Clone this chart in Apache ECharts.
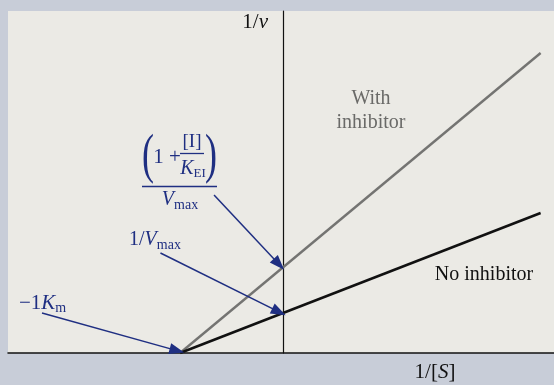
<!DOCTYPE html>
<html>
<head>
<meta charset="utf-8">
<title>Lineweaver–Burk plot with inhibitor</title>
<script src="https://cdn.jsdelivr.net/npm/echarts@6/dist/echarts.min.js"></script>
<style>
  html, body { margin: 0; padding: 0; background: #c8cdd8; }
  #chart { width: 554px; height: 385px; }
</style>
</head>
<body>
<div id="chart"></div>
<script>
// 1/[S] values at the two ends of each line (x-intercept at −1/Km)
const invS = [-1, 2.5];
// 1/v for the uninhibited enzyme
const noInhibitor = [0, 3.5];
// 1/v with inhibitor present (steeper slope, same x-intercept)
const withInhibitor = [0, 7.5];

const navy = '#1f2f82';
const serif = '"Liberation Serif", "DejaVu Serif", serif';

const chart = echarts.init(document.getElementById('chart'), null, { renderer: 'canvas' });

function pairs(ys) { return invS.map((x, i) => [x, ys[i]]); }

const arrowStyle = { color: navy, width: 1.5, type: 'solid' };

const option = {
  animation: false,
  backgroundColor: '#c8cdd8',
  grid: {
    left: 8, right: 0, top: 11, bottom: 32,
    show: true, backgroundColor: '#ebeae5', borderWidth: 0
  },
  xAxis: {
    type: 'value', min: -2.67, max: 2.63,
    axisLine: { show: true, onZero: true, lineStyle: { color: '#111', width: 1.5 } },
    axisTick: { show: false }, axisLabel: { show: false }, splitLine: { show: false }
  },
  yAxis: {
    type: 'value', min: 0, max: 8.55,
    axisLine: { show: true, onZero: true, lineStyle: { color: '#111', width: 1.2 } },
    axisTick: { show: false }, axisLabel: { show: false }, splitLine: { show: false }
  },
  series: [
    {
      name: 'With inhibitor', type: 'line', data: pairs(withInhibitor),
      symbol: 'none', lineStyle: { color: '#747472', width: 2.4 }, z: 3
    },
    {
      name: 'No inhibitor', type: 'line', data: pairs(noInhibitor),
      symbol: 'none', lineStyle: { color: '#111', width: 2.5 }, z: 4,
      markLine: {
        silent: true, animation: false,
        symbol: ['none', 'triangle'], symbolSize: [11, 15],
        label: { show: false },
        lineStyle: arrowStyle,
        data: [
          [{ coord: [-2.34, 1.0] }, { coord: [-1.03, 0.06] }],
          [{ coord: [-1.19, 2.5] }, { coord: [-0.04, 1.03] }],
          [{ coord: [-0.67, 3.95] }, { coord: [-0.04, 2.22] }]
        ]
      }
    }
  ],
  graphic: [
    // axis titles
    { type: 'text', x: 268, y: 22, style: {
        text: '{n|1/}{i|v}', align: 'right', verticalAlign: 'middle',
        rich: { n: { font: '21px ' + serif, fill: '#111' }, i: { font: 'italic 21px ' + serif, fill: '#111' } }
    } },
    { type: 'text', x: 435, y: 372, style: {
        text: '{n|1/[}{i|S}{n|]}', align: 'center', verticalAlign: 'middle',
        rich: { n: { font: '21px ' + serif, fill: '#111' }, i: { font: 'italic 21px ' + serif, fill: '#111' } }
    } },
    // line labels
    { type: 'text', x: 371, y: 99, style: {
        text: 'With', align: 'center', verticalAlign: 'middle', font: '20px ' + serif, fill: '#6a6a68'
    } },
    { type: 'text', x: 371, y: 123, style: {
        text: 'inhibitor', align: 'center', verticalAlign: 'middle', font: '20px ' + serif, fill: '#6a6a68'
    } },
    { type: 'text', x: 484, y: 275, style: {
        text: 'No inhibitor', align: 'center', verticalAlign: 'middle', font: '20px ' + serif, fill: '#111'
    } },
    // −1/Km
    { type: 'text', x: 19, y: 303, style: {
        text: '{n|−1}{i|K}{s|m}', align: 'left', verticalAlign: 'middle',
        rich: {
          n: { font: '21px ' + serif, fill: navy },
          i: { font: 'italic 21px ' + serif, fill: navy },
          s: { font: '14px ' + serif, fill: navy, padding: [10, 0, 0, 0] }
        }
    } },
    // 1/Vmax
    { type: 'text', x: 129, y: 240, style: {
        text: '{n|1/}{i|V}{s|max}', align: 'left', verticalAlign: 'middle',
        rich: {
          n: { font: '20px ' + serif, fill: navy },
          i: { font: 'italic 20px ' + serif, fill: navy },
          s: { font: '14px ' + serif, fill: navy, padding: [10, 0, 0, 0] }
        }
    } },
    // (1 + [I]/K_EI) / Vmax
    { type: 'text', x: 148, y: 157, scaleY: 1.55, style: {
        text: '(', align: 'center', verticalAlign: 'middle', font: '36px ' + serif, fill: navy
    } },
    { type: 'text', x: 211, y: 157, scaleY: 1.55, style: {
        text: ')', align: 'center', verticalAlign: 'middle', font: '36px ' + serif, fill: navy
    } },
    { type: 'text', x: 167, y: 157, style: {
        text: '1 +', align: 'center', verticalAlign: 'middle', font: '21px ' + serif, fill: navy
    } },
    { type: 'text', x: 192, y: 142, style: {
        text: '[I]', align: 'center', verticalAlign: 'middle', font: '19px ' + serif, fill: navy
    } },
    { type: 'line', shape: { x1: 180, y1: 153.5, x2: 204, y2: 153.5 }, style: { stroke: navy, lineWidth: 1.3 } },
    { type: 'text', x: 193, y: 169, style: {
        text: '{i|K}{s|EI}', align: 'center', verticalAlign: 'middle',
        rich: {
          i: { font: 'italic 20px ' + serif, fill: navy },
          s: { font: '13px ' + serif, fill: navy, padding: [9, 0, 0, 0] }
        }
    } },
    { type: 'line', shape: { x1: 142, y1: 186.5, x2: 217, y2: 186.5 }, style: { stroke: navy, lineWidth: 1.6 } },
    { type: 'text', x: 180, y: 200, style: {
        text: '{i|V}{s|max}', align: 'center', verticalAlign: 'middle',
        rich: {
          i: { font: 'italic 20px ' + serif, fill: navy },
          s: { font: '14px ' + serif, fill: navy, padding: [10, 0, 0, 0] }
        }
    } }
  ]
};

chart.setOption(option);
</script>
</body>
</html>
